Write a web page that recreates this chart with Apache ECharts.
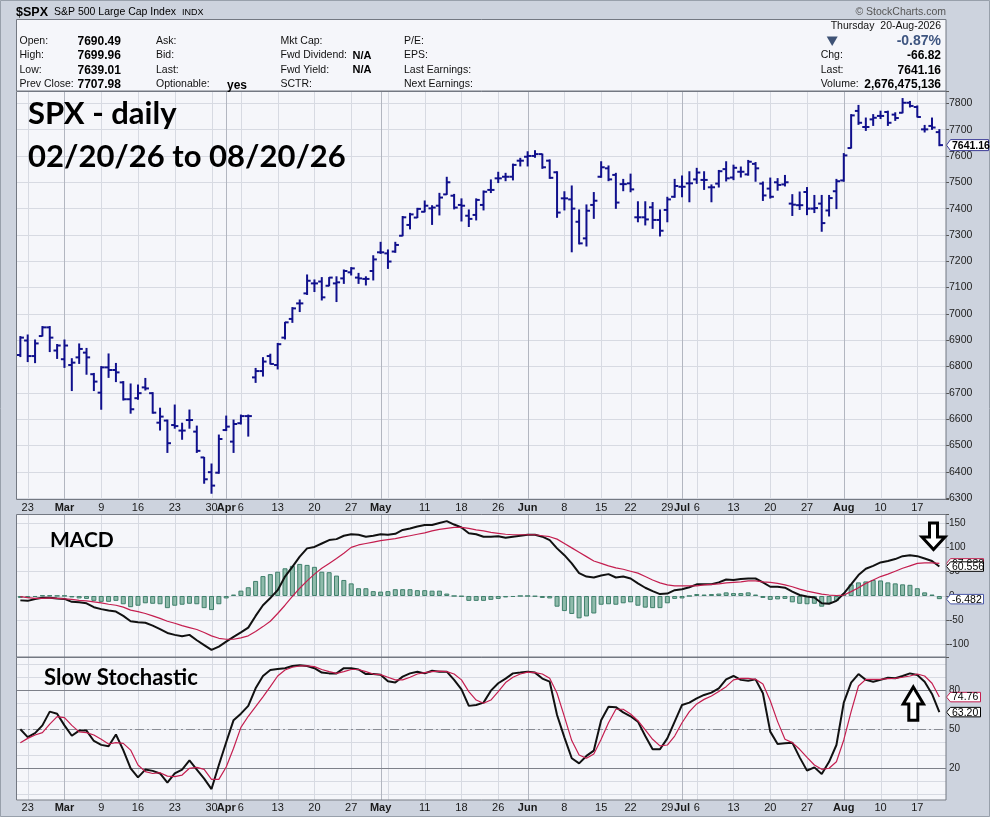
<!DOCTYPE html>
<html>
<head>
<meta charset="utf-8">
<title>SPX daily</title>
<script src="https://cdn.jsdelivr.net/npm/echarts@6.0.0/dist/echarts.min.js"></script>
<style>
html,body{margin:0;padding:0;background:#cdd3de;}
#chart{width:990px;height:817px;}
</style>
</head>
<body>
<div id="chart"></div>
<script>
// ---------------- DATA ----------------
const dates = [
'2026-02-20','2026-02-23','2026-02-24','2026-02-25','2026-02-26','2026-02-27',
'2026-03-02','2026-03-03','2026-03-04','2026-03-05','2026-03-06',
'2026-03-09','2026-03-10','2026-03-11','2026-03-12','2026-03-13',
'2026-03-16','2026-03-17','2026-03-18','2026-03-19','2026-03-20',
'2026-03-23','2026-03-24','2026-03-25','2026-03-26','2026-03-27',
'2026-03-30','2026-03-31','2026-04-01','2026-04-02',
'2026-04-06','2026-04-07','2026-04-08','2026-04-09','2026-04-10',
'2026-04-13','2026-04-14','2026-04-15','2026-04-16','2026-04-17',
'2026-04-20','2026-04-21','2026-04-22','2026-04-23','2026-04-24',
'2026-04-27','2026-04-28','2026-04-29','2026-04-30','2026-05-01',
'2026-05-04','2026-05-05','2026-05-06','2026-05-07','2026-05-08',
'2026-05-11','2026-05-12','2026-05-13','2026-05-14','2026-05-15',
'2026-05-18','2026-05-19','2026-05-20','2026-05-21','2026-05-22',
'2026-05-26','2026-05-27','2026-05-28','2026-05-29',
'2026-06-01','2026-06-02','2026-06-03','2026-06-04','2026-06-05',
'2026-06-08','2026-06-09','2026-06-10','2026-06-11','2026-06-12',
'2026-06-15','2026-06-16','2026-06-17','2026-06-18',
'2026-06-22','2026-06-23','2026-06-24','2026-06-25','2026-06-26',
'2026-06-29','2026-06-30','2026-07-01','2026-07-02',
'2026-07-06','2026-07-07','2026-07-08','2026-07-09','2026-07-10',
'2026-07-13','2026-07-14','2026-07-15','2026-07-16','2026-07-17',
'2026-07-20','2026-07-21','2026-07-22','2026-07-23','2026-07-24',
'2026-07-27','2026-07-28','2026-07-29','2026-07-30','2026-07-31',
'2026-08-03','2026-08-04','2026-08-05','2026-08-06','2026-08-07',
'2026-08-10','2026-08-11','2026-08-12','2026-08-13','2026-08-14',
'2026-08-17','2026-08-18','2026-08-19','2026-08-20'
];

const openP = [
6844,6899,6840,6916,6949,6861,6828,6806,6835,6853,
6771,6701,6797,6787,6740,6676,6680,6721,6699,6587,
6595,6578,6557,6597,6553,6455,6399,6397,6559,6515,
6585,6612,6759,6783,6840,6806,6910,6981,7040,7078,
7116,7123,7107,7116,7135,7158,7138,7133,7163,7234,
7230,7237,7297,7338,7366,7388,7401,7411,7454,7449,
7414,7373,7376,7414,7471,7515,7521,7521,7582,7597,
7600,7607,7582,7538,7439,7435,7350,7287,7414,7521,
7553,7528,7493,7496,7367,7367,7405,7357,7395,7445,
7483,7496,7511,7509,7481,7495,7550,7518,7540,7530,
7570,7495,7476,7500,7492,7419,7413,7463,7400,7419,
7393,7466,7507,7630,7771,7710,7739,7752,7767,7757,
7764,7802,7786,7701,7714,7690.49
];
const highP = [
6914,6920,6901,6952,6952,6884,6901,6830,6886,6869,
6774,6800,6848,6812,6743,6734,6730,6755,6701,6642,
6597,6654,6585,6635,6574,6455,6430,6540,6612,6597,
6616,6616,6793,6834,6847,6888,6968,7024,7053,7148,
7129,7138,7138,7141,7167,7176,7154,7141,7221,7272,
7243,7272,7370,7382,7401,7429,7411,7458,7519,7454,
7437,7395,7437,7467,7509,7538,7534,7569,7591,7616,
7620,7607,7585,7540,7464,7486,7395,7414,7461,7578,
7562,7534,7511,7531,7426,7426,7423,7395,7443,7511,
7524,7540,7553,7540,7490,7545,7578,7565,7558,7583,
7575,7501,7516,7514,7526,7453,7463,7480,7450,7450,
7450,7511,7609,7757,7792,7744,7757,7770,7770,7764,
7818,7807,7790,7716,7744,7699.96
];
const lowP = [
6838,6819,6815,6916,6857,6831,6797,6709,6812,6771,
6709,6638,6759,6743,6673,6623,6676,6711,6623,6559,
6474,6566,6524,6566,6474,6357,6319,6395,6557,6474,
6582,6536,6740,6764,6810,6791,6905,6968,7009,7074,
7085,7053,7107,7047,7116,7148,7116,7110,7129,7230,
7173,7234,7297,7323,7366,7388,7340,7376,7454,7399,
7353,7332,7357,7395,7461,7499,7506,7509,7562,7562,
7595,7553,7515,7367,7395,7236,7266,7258,7363,7519,
7506,7401,7468,7464,7350,7338,7325,7296,7350,7443,
7445,7426,7496,7473,7426,7482,7505,7510,7520,7527,
7504,7431,7440,7470,7486,7374,7397,7377,7385,7314,
7372,7400,7504,7630,7720,7697,7716,7742,7716,7735,
7764,7786,7748,7691,7701,7639.01
];
const closeP = [
6910,6840,6888,6949,6910,6880,6880,6815,6867,6835,
6743,6797,6787,6778,6676,6638,6699,6717,6625,6610,
6509,6574,6557,6597,6480,6372,6348,6525,6572,6582,
6612,6612,6783,6819,6810,6885,6968,7021,7040,7126,
7116,7063,7138,7120,7163,7173,7135,7133,7207,7234,
7199,7262,7367,7378,7399,7411,7404,7442,7500,7404,
7411,7361,7433,7464,7471,7515,7521,7566,7582,7600,
7607,7557,7517,7385,7439,7400,7268,7392,7430,7557,
7511,7423,7493,7473,7367,7359,7357,7316,7435,7486,
7483,7496,7537,7509,7481,7542,7515,7555,7540,7578,
7553,7450,7445,7490,7500,7415,7413,7400,7402,7345,
7440,7504,7602,7754,7726,7710,7745,7752,7726,7744,
7802,7790,7748,7701,7708,7641.16
];

const macdLine = [
-9,-10,-6,-3.5,-3.5,-5,-6,-12,-13,-15,
-23,-27,-30,-32,-41,-52,-54,-55,-61,-68,
-76,-80,-83,-80,-91,-101,-111,-104,-94,-84,
-75,-65,-41,-19,-4,12,40,60,81,98,
101,108,115,117,124,127,126,122,124,127,
126,128,136,139,143,146,146,150,154,147,
141,129,127,122,122,123,120,122,124,126,
126,122,115,98,84,67,47,40,38,42,
45,38,40,36,26,17,10,4,5,12,
14,18,24,24,24,28,34,33,35,36,
36,28,19,19,17,9,2,-1,-3,-15,
-16,-10,5,24,43,56,62,69,72,76,
82,84,82,77,72,60.556
];
const signalLine = [
-1.4,-3.5,-5,-5,-4,-5,-6,-7,-9,-10,
-12,-14,-17,-19,-23,-29,-32,-36,-41,-46,
-52,-56,-61,-65,-69,-75,-82,-87,-89,-89,
-86,-82,-73,-63,-52,-36,-19,-1,16,31,
45,57,67,77,88,100,105,108,111,114,
116,118,121,124,127,130,134,137,139,141,
141,139,136,134,131,129,127,126,126,126,
126,124,122,117,108,99,90,81,72,67,
62,58,55,51,47,40,33,27,23,21,
21,21,21,23,24,25,27,28,29,31,
31,29,28,26,23,19,14,10,7,4,
2,1,2,9,17,26,33,40,45,51,
57,62,67,68,68,67.038
];
const histogram = [
-4,-4,-2,1,1,0.5,0.5,-3,-5,-6,
-10,-12,-12,-10,-17,-23,-20,-15,-16,-17,
-25,-20,-18,-16,-17,-25,-29,-17,-5,3,
11,18,31,41,45,50,57,62,66,64,
60,50,49,42,33,26,16,16,10,9,
10,14,14,14,12,12,11,11,5,0,
-1,-10,-10,-10,-8,-6,-3,-2,0,0,
-1,-4,-5,-22,-31,-37,-46,-42,-36,-18,
-17,-18,-15,-13,-20,-24,-25,-25,-15,-6,
-5,0,4,3,4,5,7.5,6,6,7.5,
3,-4,-8,-7,-6,-13,-16,-17,-16,-22,
-16,-10,5,24,28,30,33,32,28,26,
24,23,16,7.5,3,-6.482
];

const stochK = [
50,44,47,53,63.6,62,53,45,49,49,
41,38,37,46,34,20,13,19,18,16,
9,16,19,26,19,12,4,22.5,40,57,
62,68,81.5,91,95.6,96.4,97,98.7,99.2,98.7,
97,93.6,93,93,97,97,96,92.5,92.5,92,
87,86,90.5,93,94.3,93,95,94.3,94.3,88,
80.7,68,68.7,70.5,79.7,85.4,89,93,93.6,94.3,
93.6,89,86.6,61,43.8,27.7,23.8,29.5,33.6,57,
67.4,67,63,60,55.9,44.8,34.6,34.6,43,55.9,
68.7,70.5,73.8,76.4,78.2,81.5,88.4,91,88,87.4,
88.4,77.7,48.2,38.7,39.2,39.7,28.4,18.2,20.7,15.6,
25,37.9,70.5,85.9,92.5,88,86.6,88,89.7,89.2,
91,93,91.8,86.6,77.2,63.2
];
const stochD = [
39.7,43,45.6,47.4,54,59.7,59,53,48,47.4,
45.6,42.3,38.7,39.7,39.2,34,22.5,17.4,16,16.6,
14,13.6,14.8,20,20.7,19.2,11.5,11.5,21,35.4,
51.5,60,67.4,75,82.8,91,95.6,97.7,98.7,98.7,
98.2,96,94.3,93,94.3,96,96,94.3,92.5,92,
90,88,88,90,92.5,93.6,94.3,94.8,94.3,92.5,
88,79,72.5,70,72.5,79,85.9,90,92.5,94,
93.6,92.5,89.2,77.7,59.7,41.3,30.2,27.7,31,42.3,
55,65.4,65.4,61.8,56.6,49.5,42.3,37.2,37.9,44.8,
55,63.6,69.5,73,75.6,79,82.8,88,89.2,89.2,
88.4,84.8,72,55.9,42.3,39.7,34.6,28.4,22.5,19.2,
20,25,41.8,63.6,83.3,88.4,88.4,88.4,89,89.2,
90,91,92.5,91,85.4,74.76
];

// x-axis tick labels (index into dates) and week / month grid lines
const tickLabelIdx  = [1,6,11,16,21,26,28,30,35,40,45,49,55,60,65,69,74,79,83,88,90,92,97,102,107,112,117,122];
const tickLabelText = ['23','Mar','9','16','23','30','Apr','6','13','20','27','May','11','18','26','Jun','8','15','22','29','Jul','6','13','20','27','Aug','10','17'];
const weekLineIdx  = [1,11,16,21,26,30,35,40,45,50,55,60,65,74,79,83,88,92,97,102,107,117,122];
const monthLineIdx = [6,28,49,69,90,112];
const stochLevels = [80,20,50];

// ---------------- LAYOUT ----------------
const FONT = '"Liberation Sans", Arial, sans-serif';
const TFONT = 'Lato, "Open Sans", sans-serif';
const LAST = dates.length - 1;
const X_MIN = -0.5917, X_MAX = 125.904;
const G = [
  {left:16, top:91,  width:930, height:408.5},
  {left:16, top:514, width:930, height:143},
  {left:16, top:657, width:930, height:143}
];
const Y_EXT = [[6295.2, 7846.7], [-125.5, 168.7], [-4.4, 105.6]];
const Y_SPLIT = [15, 6, 11];

const BAR_COLOR = '#10108c';
const RED = '#c41e4f';

function T(text, x, y, size, o) {
  o = o || {};
  const al = o.align || 'left';
  return {type:'text', z:100, silent:true, style:{
    text:text, x:x, y:y,
    font:(o.bold ? 'bold ' : '') + size + 'px ' + (o.family || FONT),
    fill:o.color || '#111',
    align:al, textAlign:al, verticalAlign:'middle', textVerticalAlign:'middle'
  }};
}

function vgridSeries(gi) {
  const data = weekLineIdx.map(i => [i, 0]).concat(monthLineIdx.map(i => [i, 1]));
  return {
    type:'custom', xAxisIndex:gi, yAxisIndex:gi, z:1, silent:true, clip:false,
    data:data,
    renderItem:function(params, api){
      const cs = params.coordSys;
      const x = Math.round(api.coord([api.value(0), Y_EXT[gi][0]])[0]) + 0.5;
      const month = api.value(1) === 1;
      return {type:'line', shape:{x1:x, y1:cs.y, x2:x, y2:cs.y + cs.height},
        style:{stroke: month ? '#b2b6c0' : '#d7dae2', lineWidth:1}};
    }
  };
}

function xLabelSeries(gi) {
  return {
    type:'custom', xAxisIndex:gi, yAxisIndex:gi, z:10, silent:true, clip:false,
    data:tickLabelIdx.map(i => [i, Y_EXT[gi][0]]),
    renderItem:function(params, api){
      const cs = params.coordSys;
      const x = api.coord([api.value(0), api.value(1)])[0];
      const t = tickLabelText[params.dataIndex];
      const bold = /[A-Za-z]/.test(t);
      return {type:'text', style:{text:t, x:x, y:cs.y + cs.height + 8,
        font:(bold ? 'bold ' : '') + '11px ' + FONT, fill:'#1a1a1a',
        align:'center', textAlign:'center', verticalAlign:'middle', textVerticalAlign:'middle'}};
    }
  };
}

function tagSeries(gi, tags) {
  return {
    type:'custom', xAxisIndex:gi, yAxisIndex:gi, z:30, silent:true, clip:false,
    data:tags.map(t => [LAST, t.v]),
    renderItem:function(params, api){
      const t = tags[params.dataIndex];
      const cs = params.coordSys;
      const y = api.coord([api.value(0), api.value(1)])[1];
      const x0 = cs.x + cs.width;
      const h = t.h, w = t.w;
      return {type:'group', children:[
        {type:'polygon', shape:{points:[[x0 + 0.5, y],[x0 + 4.5, y - h/2],[x0 + 4.5 + w, y - h/2],[x0 + 4.5 + w, y + h/2],[x0 + 4.5, y + h/2]]},
          style:{fill:'#ffffff', stroke:t.color, lineWidth:1}},
        {type:'text', style:{text:t.text, x:x0 + 6, y:y + 0.5, font:t.font, fill:'#000',
          align:'left', textAlign:'left', verticalAlign:'middle', textVerticalAlign:'middle'}}
      ]};
    }
  };
}

const mainTags = [{v:closeP[LAST], text:closeP[LAST].toFixed(2), color:'#3b3b96', w:38, h:11, font:'bold 10.5px ' + FONT}];
const macdTags = [
  {v:signalLine[LAST], text:signalLine[LAST].toFixed(3), color:RED, w:33, h:9.5, font:'10.5px ' + FONT},
  {v:macdLine[LAST], text:macdLine[LAST].toFixed(3), color:'#000', w:33, h:9.5, font:'10.5px ' + FONT},
  {v:histogram[LAST], text:histogram[LAST].toFixed(3), color:'#4a58a8', w:33, h:9.5, font:'10.5px ' + FONT}
];
const stochTags = [
  {v:stochD[LAST], text:stochD[LAST].toFixed(2), color:RED, w:30, h:9.5, font:'10.5px ' + FONT},
  {v:stochK[LAST], text:stochK[LAST].toFixed(2), color:'#000', w:30, h:9.5, font:'10.5px ' + FONT}
];

const labelFormatters = [
  v => (Math.abs(v / 100 - Math.round(v / 100)) < 1e-6 ? String(Math.round(v)) : ''),
  v => (Math.abs(v / 50 - Math.round(v / 50)) < 1e-6 ? String(Math.round(v)) : ''),
  v => ([20, 50, 80].indexOf(Math.round(v)) >= 0 && Math.abs(v - Math.round(v)) < 1e-6 ? String(Math.round(v)) : '')
];

const option = {
  animation:false,
  backgroundColor:'#cdd3de',
  grid:G.map(g => ({left:g.left, top:g.top, width:g.width, height:g.height, show:true,
    backgroundColor:'#f5f6fa', borderWidth:0, containLabel:false})),
  xAxis:G.map((g, gi) => ({type:'value', gridIndex:gi, min:X_MIN, max:X_MAX, show:false,
    axisLine:{onZero:false}})),
  yAxis:G.map((g, gi) => ({
    type:'value', gridIndex:gi, position:'right', min:Y_EXT[gi][0], max:Y_EXT[gi][1], splitNumber:Y_SPLIT[gi],
    axisLine:{show:false, onZero:false},
    axisTick:{show:gi !== 2, length:3, lineStyle:{color:'#555'}},
    axisLabel:{fontSize:gi === 0 ? 10.5 : 10, color:'#222', fontFamily:'Liberation Sans', margin:3, formatter:labelFormatters[gi]},
    splitLine:{show:true, lineStyle:{color:'#d7dae2', width:1}}
  })),
  series:[
    vgridSeries(0), vgridSeries(1), vgridSeries(2),
    // OHLC bars
    {
      type:'custom', name:'SPX', xAxisIndex:0, yAxisIndex:0, z:5, clip:false,
      data:dates.map((d, i) => [i, openP[i], highP[i], lowP[i], closeP[i]]),
      encode:{x:0, y:[1,2,3,4]},
      renderItem:function(params, api){
        const i = api.value(0);
        const o = api.coord([i, api.value(1)]);
        const h = api.coord([i, api.value(2)]);
        const l = api.coord([i, api.value(3)]);
        const c = api.coord([i, api.value(4)]);
        const x = o[0];
        const st = {stroke:BAR_COLOR, lineWidth:2};
        return {type:'group', children:[
          {type:'line', shape:{x1:x, y1:h[1] - 0.5, x2:x, y2:l[1] + 0.5}, style:st},
          {type:'line', shape:{x1:x - 3.6, y1:o[1], x2:x, y2:o[1]}, style:st},
          {type:'line', shape:{x1:x, y1:c[1], x2:x + 3.6, y2:c[1]}, style:st}
        ]};
      }
    },
    tagSeries(0, mainTags),
    xLabelSeries(0),
    // MACD
    {
      type:'bar', name:'Histogram', xAxisIndex:1, yAxisIndex:1, z:3, barWidth:5,
      data:histogram.map((v, i) => [i, v]),
      itemStyle:{color:'#8fbbab', borderColor:'#3f7f6b', borderWidth:1}
    },
    {
      type:'line', name:'MACD', xAxisIndex:1, yAxisIndex:1, z:6, showSymbol:false, symbol:'none',
      data:macdLine.map((v, i) => [i, v]), lineStyle:{color:'#111', width:2}
    },
    {
      type:'line', name:'Signal', xAxisIndex:1, yAxisIndex:1, z:7, showSymbol:false, symbol:'none',
      data:signalLine.map((v, i) => [i, v]), lineStyle:{color:RED, width:1.2}
    },
    tagSeries(1, macdTags),
    // Stochastic reference levels
    {
      type:'custom', xAxisIndex:2, yAxisIndex:2, z:2, silent:true, clip:false,
      data:stochLevels.map(v => [0, v]),
      renderItem:function(params, api){
        const cs = params.coordSys;
        const y = Math.round(api.coord([api.value(0), api.value(1)])[1]) + 0.5;
        const mid = api.value(1) === 50;
        return {type:'line', shape:{x1:cs.x, y1:y, x2:cs.x + cs.width, y2:y},
          style:{stroke: mid ? '#8a8d95' : '#7d8089', lineWidth:1, lineDash: mid ? [9,3,2,3] : null}};
      }
    },
    {
      type:'line', name:'%K', xAxisIndex:2, yAxisIndex:2, z:6, showSymbol:false, symbol:'none',
      data:stochK.map((v, i) => [i, v]), lineStyle:{color:'#111', width:2}
    },
    {
      type:'line', name:'%D', xAxisIndex:2, yAxisIndex:2, z:7, showSymbol:false, symbol:'none',
      data:stochD.map((v, i) => [i, v]), lineStyle:{color:RED, width:1.2}
    },
    tagSeries(2, stochTags),
    xLabelSeries(2)
  ],
  graphic:{elements:[]}
};

// ---------------- HEADER / ANNOTATIONS ----------------
const gr = option.graphic.elements;
gr.push({type:'rect', z:0, silent:true, shape:{x:0.5, y:0.5, width:989, height:816}, style:{fill:'none', stroke:'#98a0ab', lineWidth:1}});
gr.push({type:'rect', z:0, silent:true, shape:{x:16.5, y:19.5, width:929.5, height:71.5}, style:{fill:'#f5f6fa', stroke:'#737882', lineWidth:1}});
G.forEach(g => gr.push({type:'rect', z:90, silent:true, shape:{x:g.left + 0.5, y:g.top + 0.5, width:g.width - 0.5, height:g.height - 0.5}, style:{fill:'none', stroke:'#737882', lineWidth:1}}));

gr.push(T('$SPX', 16, 12.5, 12.5, {bold:true, color:'#000'}));
gr.push(T('S&P 500 Large Cap Index', 54, 12.5, 10.5, {color:'#000'}));
gr.push(T('INDX', 182, 12.5, 9, {color:'#000'}));
gr.push(T('\u00A9 StockCharts.com', 946, 12, 10.5, {align:'right', color:'#555'}));

const rowsY = [41.5, 55.5, 70, 84];
['Open:', 'High:', 'Low:', 'Prev Close:'].forEach((s, k) => gr.push(T(s, 19.5, rowsY[k], 10.5)));
['7690.49', '7699.96', '7639.01', '7707.98'].forEach((s, k) => gr.push(T(s, 77.5, rowsY[k] + 0.5, 12, {bold:true, color:'#000'})));
['Ask:', 'Bid:', 'Last:', 'Optionable:'].forEach((s, k) => gr.push(T(s, 156, rowsY[k], 10.5)));
gr.push(T('yes', 227, rowsY[3] + 1.5, 12, {bold:true, color:'#000'}));
['Mkt Cap:', 'Fwd Dividend:', 'Fwd Yield:', 'SCTR:'].forEach((s, k) => gr.push(T(s, 280.5, rowsY[k], 10.5)));
gr.push(T('N/A', 352.5, rowsY[1], 11, {bold:true, color:'#000'}));
gr.push(T('N/A', 352.5, rowsY[2], 11, {bold:true, color:'#000'}));
['P/E:', 'EPS:', 'Last Earnings:', 'Next Earnings:'].forEach((s, k) => gr.push(T(s, 404, rowsY[k], 10.5)));

gr.push(T('Thursday  20-Aug-2026', 941, 25.7, 10.5, {align:'right'}));
gr.push({type:'polygon', z:100, silent:true, shape:{points:[[826.7,36.5],[837.7,36.5],[832.2,46]]}, style:{fill:'#3e5275'}});
gr.push(T('-0.87%', 941, 41.5, 14, {bold:true, align:'right', color:'#3e5580'}));
gr.push(T('Chg:', 820.7, rowsY[1], 10.5));
gr.push(T('-66.82', 941, rowsY[1] + 0.5, 12, {bold:true, align:'right', color:'#000'}));
gr.push(T('Last:', 820.7, rowsY[2], 10.5));
gr.push(T('7641.16', 941, rowsY[2] + 0.5, 12, {bold:true, align:'right', color:'#000'}));
gr.push(T('Volume:', 820.7, rowsY[3], 10.5));
gr.push(T('2,676,475,136', 941, rowsY[3] + 0.5, 12, {bold:true, align:'right', color:'#000'}));

gr.push(T('SPX - daily', 28, 114, 31, {bold:true, color:'#000', family:TFONT}));
gr.push(T('02/20/26 to 08/20/26', 28, 157, 31, {bold:true, color:'#000', family:TFONT}));
gr.push(T('MACD', 50, 540, 21, {bold:true, color:'#000', family:TFONT}));
gr.push(T('Slow Stochastic', 44, 677.5, 22, {bold:true, color:'#000', family:TFONT}));

gr.push({type:'polygon', z:100, silent:true,
  shape:{points:[[929.5,523],[937.5,523],[937.5,537],[945,537],[933.5,549.5],[922,537],[929.5,537]]},
  style:{fill:'#ffffff', stroke:'#000', lineWidth:3, lineJoin:'miter'}});
gr.push({type:'polygon', z:100, silent:true,
  shape:{points:[[913.3,687],[923.5,704],[917.8,704],[917.8,720.2],[908.8,720.2],[908.8,704],[903.2,704]]},
  style:{fill:'#ffffff', stroke:'#000', lineWidth:3, lineJoin:'miter'}});

const chart = echarts.init(document.getElementById('chart'));
chart.setOption(option);
</script>
</body>
</html>
